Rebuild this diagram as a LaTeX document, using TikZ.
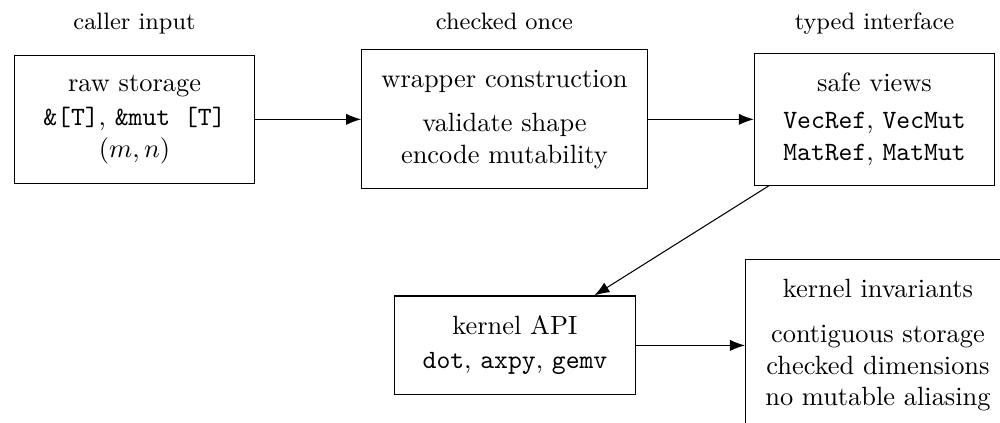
\documentclass[tikz,border=0pt]{standalone}
\usetikzlibrary{arrows.meta}

\begin{document}
\begin{tikzpicture}[
    box/.style={draw, align=center, inner sep=7.5pt, minimum width=3.2cm},
    lbl/.style={font=\small, anchor=base},
    arr/.style={-{Latex[length=2mm]}}
  ]
  \useasboundingbox (0,0) rectangle (13.315,5.619);
  \def\toprow{4.03}
  \def\botrow{1.02}
  % upper row
  \node[box] (raw) at (1.791,\toprow)
    {raw storage\\[1pt] \texttt{\&[T]}, \texttt{\&mut [T]}\\ $(m,n)$};
  \node[box] (wrap) at (6.717,\toprow)
    {wrapper construction\\[5pt] validate shape\\ encode mutability};
  \node[box] (safe) at (11.644,\toprow)
    {safe views\\[2pt] \texttt{VecRef}, \texttt{VecMut}\\ \texttt{MatRef}, \texttt{MatMut}};
  % lower row
  \node[box] (api) at (6.857,\botrow)
    {kernel API\\[1pt] \texttt{dot}, \texttt{axpy}, \texttt{gemv}};
  \node[box] (inv) at (11.69,\botrow)
    {kernel invariants\\[5pt] contiguous storage\\ checked dimensions\\ no mutable aliasing};
  \foreach \n/\t in {raw/caller input, wrap/checked once, safe/typed interface} {
      \node[lbl] (\n-lbl) at (\n |- 0,5.22) {\t};
  }
  \foreach \a/\b in {raw/wrap, wrap/safe, safe/api, api/inv} {
      \draw[arr] (\a) -- (\b);
  }
\end{tikzpicture}
\end{document}
